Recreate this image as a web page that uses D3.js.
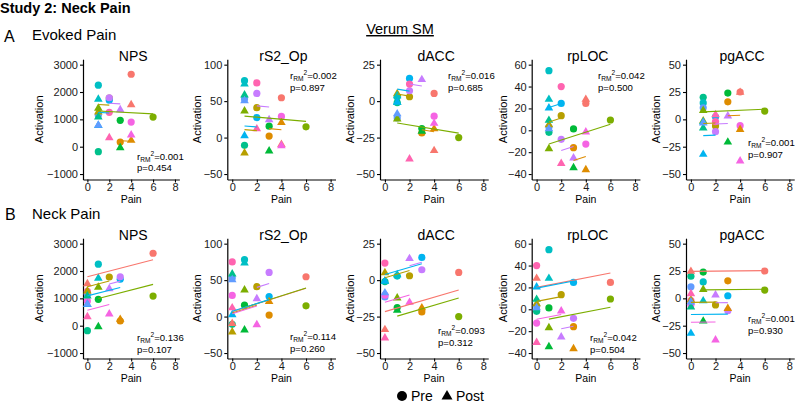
<!DOCTYPE html>
<html><head><meta charset="utf-8">
<script src="https://cdn.jsdelivr.net/npm/d3@7"></script>
<style>
body{margin:0;background:#fff}
svg{display:block}
text{font-family:"Liberation Sans",Arial,Helvetica,sans-serif}
</style>
</head><body>
<svg id="chart" width="796" height="403"></svg>
<script>
// ---------------- data ----------------
const subjects = ["S01","S02","S03","S04","S05","S06","S07","S08","S09","S10","S11","S12"];
const subjectColors = ["#F8766D","#DE8C00","#B79F00","#7CAE00","#00BA38","#00C08B","#00BFC4","#00B4F0","#619CFF","#C77CFF","#F564E3","#FF64B0"];
const regions = ["NPS","rS2_Op","dACC","rpLOC","pgACC"];

// pain ratings (x)
const evokedPre  = [4,3,2,6,3,1,1,2,1,2,4,2];
const evokedPost = [4,4,1,1,3,1,1,1,1,3,4,2];
const neckPre    = [6,3,2,6,1,0,1,3,0,3,0,0];
const neckPost   = [0,3,0,1,1,0,1,0,0,2,2,0];

// activation (y), pre / post per region
const npsPre    = [2650,171,1780,1085,963,-183,2250,1700,1150,1790,900,1256];
const npsPost   = [1550,244,1280,1420,-24,1100,1750,790,800,1366,439,341];
const rs2Pre    = [54.6,2,41,14.7,15.6,-10.6,78,27.5,53,60.5,29,75];
const rs2Post   = [-9,21,-20.6,37,-18,59,74,3,51,25,-10.6,12.4];
const daccPre   = [5.3,-21.8,3,-25,-18.8,-1,2.8,15.6,-11.5,7.1,-10.3,11.7];
const daccPost  = [-33.7,-18.8,5.3,-12,-20.4,-0.5,3.9,-0.5,-8.5,15,-15,-39.4];
const rplocPre  = [24.6,-15.9,13.4,9.4,1.2,-1.9,54.5,24.6,3,-8.3,-12.6,40];
const rplocPost = [28.6,-35.7,5.4,-16.5,-34,9.4,28.6,20.7,1.8,-25,-1.3,-30];
const pgaccPre  = [25,16,-6,7.6,24,20.2,15,2.4,10.5,-11.3,-5.8,-2];
const pgaccPost = [25,-9,-1.2,8.5,-20.5,-7.6,-2,-31.7,-3,3.3,-37.8,4.6];

// axis ticks
const xTicks = [0,2,4,6,8];
const yTicksNPS   = [-1000,0,1000,2000,3000];
const yTicksRS2   = [-50,0,50,100];
const yTicksDACC  = [-50,-25,0,25];
const yTicksRPLOC = [-40,-20,0,20,40,60];
const yTicksPGACC = [-50,-25,0,25,50];

// statistics text
const r2Evoked = ["0.001","0.002","0.016","0.042","0.001"];
const pEvoked  = ["0.454","0.897","0.685","0.500","0.907"];
const r2Neck   = ["0.136","0.114","0.093","0.042","0.001"];
const pNeck    = ["0.107","0.260","0.312","0.504","0.930"];

// ---------------- layout ----------------
const svg = d3.select("#chart");
const FONT = '"Liberation Sans",Arial,Helvetica,sans-serif';
const actPre  = [npsPre, rs2Pre, daccPre, rplocPre, pgaccPre];
const actPost = [npsPost, rs2Post, daccPost, rplocPost, pgaccPost];
const yTicksAll = [yTicksNPS, yTicksRS2, yTicksDACC, yTicksRPLOC, yTicksPGACC];

const colLeft = [83, 227.3, 380, 531.7, 686];
const colUnit = [10.95, 12.3, 12.3, 12.3, 12.3];
const rowTop = [59.2, 238.2];
const plotH = 120.3;
const ylabX = [40, 198, 351, 504, 657];

// annotation placement [row][col] -> [x, baseline]
const annPos = [
  [[137,159.5],[290,79],[448,79],[598,79],[748,146]],
  [[137,341],[290,340],[438,334],[590,341],[748,322]]
];

// headers
svg.append("text").attr("x",0).attr("y",12.7).attr("font-size",14.5).attr("font-weight","bold").text("Study 2: Neck Pain");
svg.append("text").attr("x",4).attr("y",41.5).attr("font-size",16).text("A");
svg.append("text").attr("x",32).attr("y",39.5).attr("font-size",15).text("Evoked Pain");
svg.append("text").attr("x",5).attr("y",220).attr("font-size",16).text("B");
svg.append("text").attr("x",32).attr("y",219).attr("font-size",15).text("Neck Pain");
svg.append("text").attr("x",400).attr("y",34).attr("font-size",14.5).attr("text-anchor","middle")
   .attr("text-decoration","underline").text("Verum SM");

function triPath(cx, cy, s){
  const h = s*0.866;
  return `M${cx},${cy-h*0.62}L${cx+s/2},${cy+h*0.38}L${cx-s/2},${cy+h*0.38}Z`;
}

function rmcorrLines(xPre, xPost, yPre, yPost){
  let num=0, den=0;
  const stats = subjects.map((s,i)=>{
    const mx=(xPre[i]+xPost[i])/2, my=(yPre[i]+yPost[i])/2;
    num += (xPre[i]-mx)*(yPre[i]-my) + (xPost[i]-mx)*(yPost[i]-my);
    den += (xPre[i]-mx)**2 + (xPost[i]-mx)**2;
    return {mx,my};
  });
  const slope = den>0 ? num/den : 0;
  return subjects.map((s,i)=>{
    const x0=Math.min(xPre[i],xPost[i]), x1=Math.max(xPre[i],xPost[i]);
    if (x0===x1) return null;
    const {mx,my}=stats[i];
    return {i, x0, x1, y0: my+slope*(x0-mx), y1: my+slope*(x1-mx)};
  }).filter(d=>d);
}

const painSets = [[evokedPre, evokedPost],[neckPre, neckPost]];
const r2Sets = [r2Evoked, r2Neck];
const pSets = [pEvoked, pNeck];

for (let row=0; row<2; row++){
  for (let c=0; c<5; c++){
    const ticks = yTicksAll[c];
    const lo = ticks[0], hi = ticks[ticks.length-1];
    const pad = (hi-lo)*0.05;
    const top = rowTop[row], bottom = top+plotH;
    const left = colLeft[c];
    const x = d3.scaleLinear().domain([-0.4,8.4]).range([left, left+8.8*colUnit[c]]);
    const y = d3.scaleLinear().domain([lo-pad, hi+pad]).range([bottom, top]);
    const g = svg.append("g");

    const fmt = v => (v<0 ? "\u2212"+Math.abs(v) : String(v));
    const ya = g.append("g").attr("transform",`translate(${left},0)`)
      .call(d3.axisLeft(y).tickValues(ticks).tickFormat(fmt).tickSize(3).tickPadding(2).tickSizeOuter(0));
    const xa = g.append("g").attr("transform",`translate(0,${bottom})`)
      .call(d3.axisBottom(x).tickValues(xTicks).tickSize(3).tickPadding(0.5).tickSizeOuter(0));
    [ya,xa].forEach(a=>{
      a.select(".domain").attr("stroke","#000").attr("stroke-width",1.2);
      a.selectAll(".tick line").attr("stroke","#000").attr("stroke-width",1.1);
      a.selectAll(".tick text").attr("fill","#1a1a1a").attr("font-size",11).attr("font-family",FONT);
    });

    // titles
    g.append("text").attr("x",(x.range()[0]+x.range()[1])/2+2).attr("y",top+2).attr("text-anchor","middle")
      .attr("font-size",14).text(regions[c]);
    g.append("text").attr("transform",`translate(${ylabX[c]},${(top+bottom)/2}) rotate(-90)`)
      .attr("text-anchor","middle").attr("dominant-baseline","middle").attr("font-size",11).text("Activation");
    g.append("text").attr("x",(x.range()[0]+x.range()[1])/2).attr("y",bottom+23.5).attr("text-anchor","middle")
      .attr("font-size",10.5).text("Pain");

    const [xPre, xPost] = painSets[row];
    const yPre = actPre[c], yPost = actPost[c];

    // points
    subjects.forEach((s,i)=>{
      g.append("circle").attr("cx",x(xPre[i])).attr("cy",y(yPre[i])).attr("r",3.6).attr("fill",subjectColors[i]);
    });
    subjects.forEach((s,i)=>{
      g.append("path").attr("d",triPath(x(xPost[i]),y(yPost[i]),8.6)).attr("fill",subjectColors[i]);
    });
    // repeated-measures fit lines
    rmcorrLines(xPre,xPost,yPre,yPost).forEach(d=>{
      g.append("line").attr("x1",x(d.x0)).attr("y1",y(d.y0)).attr("x2",x(d.x1)).attr("y2",y(d.y1))
        .attr("stroke",subjectColors[d.i]).attr("stroke-width",1.1);
    });

    // annotation
    const [ax, ay] = annPos[row][c];
    const t1 = g.append("text").attr("x",ax).attr("y",ay).attr("font-size",9.6);
    t1.append("tspan").text("r");
    t1.append("tspan").attr("font-size",6.6).attr("dy",2.3).text("RM");
    t1.append("tspan").attr("font-size",6.6).attr("dy",-6.3).text("2");
    t1.append("tspan").attr("dy",4).text("="+r2Sets[row][c]);
    g.append("text").attr("x",ax).attr("y",ay+11.5).attr("font-size",9.6).text("p="+pSets[row][c]);
  }
}

// legend
const leg = svg.append("g");
leg.append("circle").attr("cx",402).attr("cy",396).attr("r",5).attr("fill","#000");
leg.append("text").attr("x",411).attr("y",401).attr("font-size",14).text("Pre");
leg.append("path").attr("d",triPath(447,396,11)).attr("fill","#000");
leg.append("text").attr("x",456).attr("y",401).attr("font-size",14).text("Post");
</script>
</body></html>
